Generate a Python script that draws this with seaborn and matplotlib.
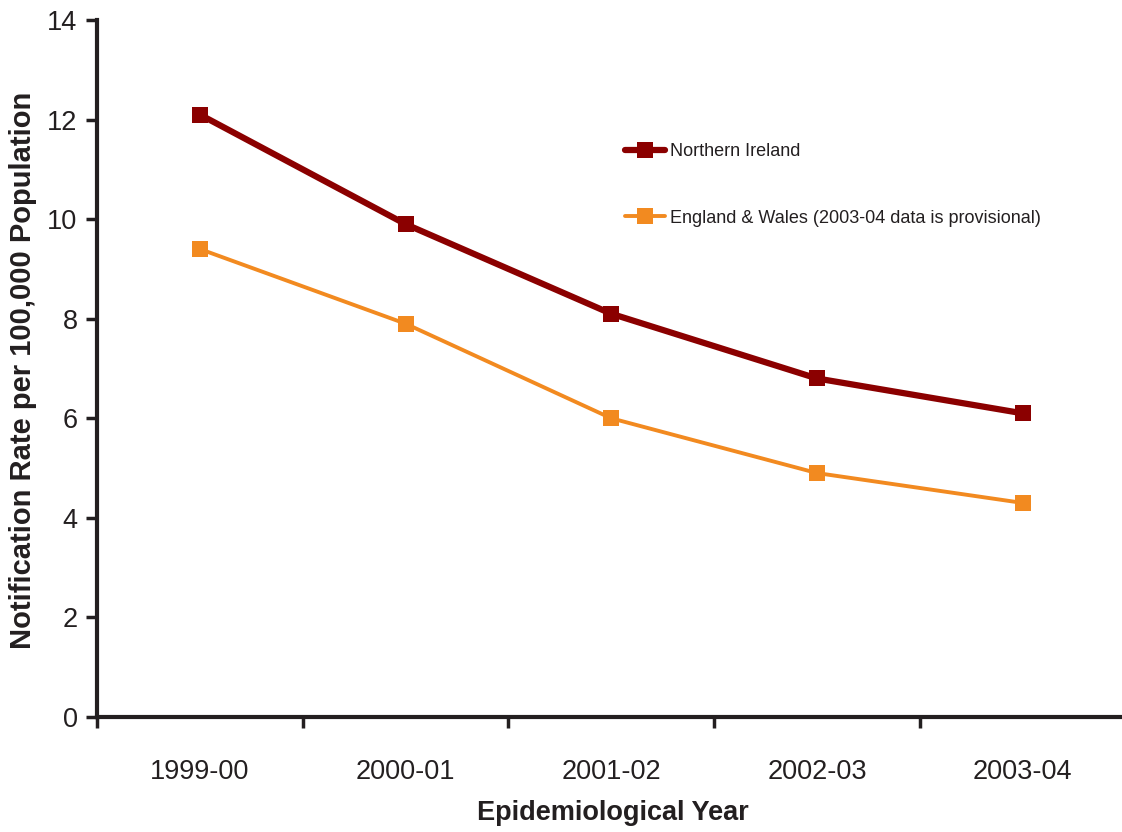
import numpy as np
import pandas as pd
import matplotlib
matplotlib.use("Agg")
import matplotlib.pyplot as plt
import seaborn as sns
from matplotlib.ticker import FixedLocator

years = ["1999-00", "2000-01", "2001-02", "2002-03", "2003-04"]
northern_ireland = [12.1, 9.9, 8.1, 6.8, 6.1]
england_wales = [9.4, 7.9, 6.0, 4.9, 4.3]
series_names = ["Northern Ireland", "England & Wales (2003-04 data is provisional)"]
y_ticks = [0, 2, 4, 6, 8, 10, 12, 14]

sns.set_style("white")
plt.rcParams["font.family"] = ["Liberation Sans", "DejaVu Sans"]

pos = np.arange(len(years))
df = pd.DataFrame({
    "pos": np.concatenate([pos, pos]),
    "rate": northern_ireland + england_wales,
    "series": [series_names[0]] * len(years) + [series_names[1]] * len(years),
})

W, H = 1122, 832
fig = plt.figure(figsize=(W / 100, H / 100), dpi=100)
ax = fig.add_axes([97 / W, 1 - 717 / H, 1 - 97 / W, (717 - 20) / H])

styles = {series_names[0]: ("#8B0000", 4.5), series_names[1]: ("#F28A20", 2.8)}
for name in series_names:
    color, lw = styles[name]
    sns.lineplot(data=df[df["series"] == name], x="pos", y="rate", ax=ax,
                 color=color, linewidth=lw, marker="s", markersize=11,
                 markeredgewidth=0, label=name)

ax.set_ylim(0, 14)
ax.set_xlim(-0.5, -0.5 + 1025 / 205.7)
ax.set_yticks(y_ticks)
ax.set_xticks(pos)
ax.set_xticklabels(years)
ax.xaxis.set_minor_locator(FixedLocator(np.arange(-0.5, len(years), 1.0)))

ink = "#231F20"
for side in ["top", "right"]:
    ax.spines[side].set_visible(False)
for side in ["left", "bottom"]:
    ax.spines[side].set_linewidth(3)
    ax.spines[side].set_color(ink)

ax.tick_params(axis="y", which="major", direction="out", length=8, width=2.5,
               color=ink, labelsize=19.5, pad=6, left=True, labelcolor=ink)
ax.tick_params(axis="x", which="major", length=0, labelsize=19.5, pad=30,
               labelcolor=ink)
ax.tick_params(axis="x", which="minor", direction="out", length=8, width=2.5,
               color=ink, bottom=True)

ax.set_xlabel("Epidemiological Year", fontsize=19.5, fontweight="bold", color=ink)
ax.set_ylabel("Notification Rate per 100,000 Population", fontsize=21,
              fontweight="bold", color=ink)
ax.xaxis.set_label_coords((613 - 97) / 1025, (717 - 800) / 697)
ax.yaxis.set_label_coords((37 - 97) / 1025, (717 - 370) / 697)

ax.legend(loc="upper left", bbox_to_anchor=(625 / W, 1 - 143 / H),
          bbox_transform=fig.transFigure, frameon=False, fontsize=13,
          handlelength=2.2, handletextpad=0.3, labelspacing=2.75,
          borderpad=0, borderaxespad=0, labelcolor=ink)

fig.savefig("out.png", dpi=100)
